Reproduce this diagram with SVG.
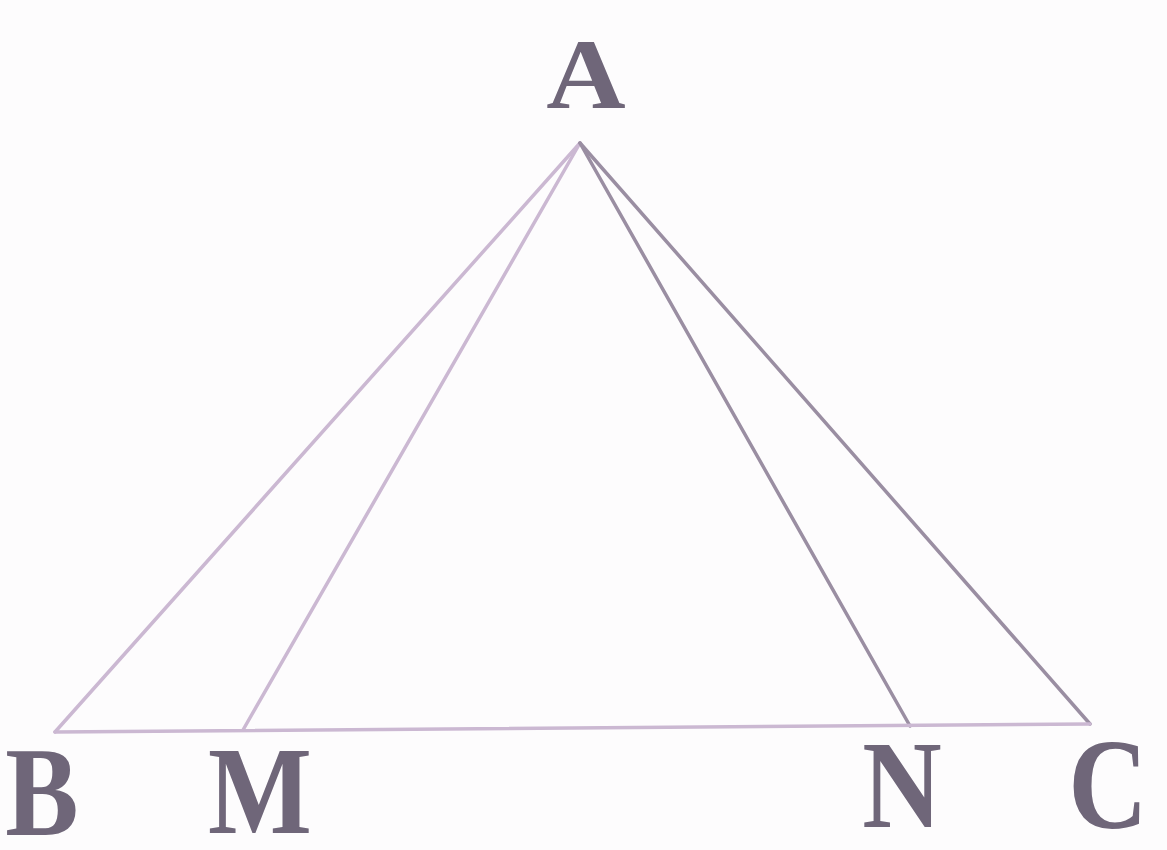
<svg xmlns="http://www.w3.org/2000/svg" width="1167" height="850" viewBox="0 0 1167 850">
<style>
.lbl{font-family:"Liberation Serif","Times New Roman",serif;font-weight:bold;font-size:110px;fill:#6f6679;text-anchor:middle}
.ln{stroke:#cbb8d2;stroke-width:3.5;fill:none;stroke-linecap:round}
.dk{stroke:#9a8ea2}
</style>
<rect width="1167" height="850" fill="#fdfcfd"/>
<g id="connectors">
<line class="ln" x1="580" y1="143" x2="55" y2="732"/>
<line class="ln" x1="580" y1="143" x2="243" y2="730"/>
<line class="ln dk" x1="580" y1="143" x2="910" y2="726"/>
<line class="ln dk" x1="580" y1="143" x2="1090" y2="724"/>
<line class="ln" x1="55" y1="732" x2="1090" y2="724"/>
</g>
<g id="A"><text class="lbl" transform="translate(586,108) scale(1,0.9)">A</text></g>
<g id="B"><text class="lbl" transform="translate(42,835) scale(1,1.15)">B</text></g>
<g id="M"><text class="lbl" transform="translate(260,833) scale(1,1.13)">M</text></g>
<g id="N"><text class="lbl" transform="translate(902,827) scale(1,1.13)">N</text></g>
<g id="C"><text class="lbl" transform="translate(1108,828) scale(1,1.17)">C</text></g>
</svg>
